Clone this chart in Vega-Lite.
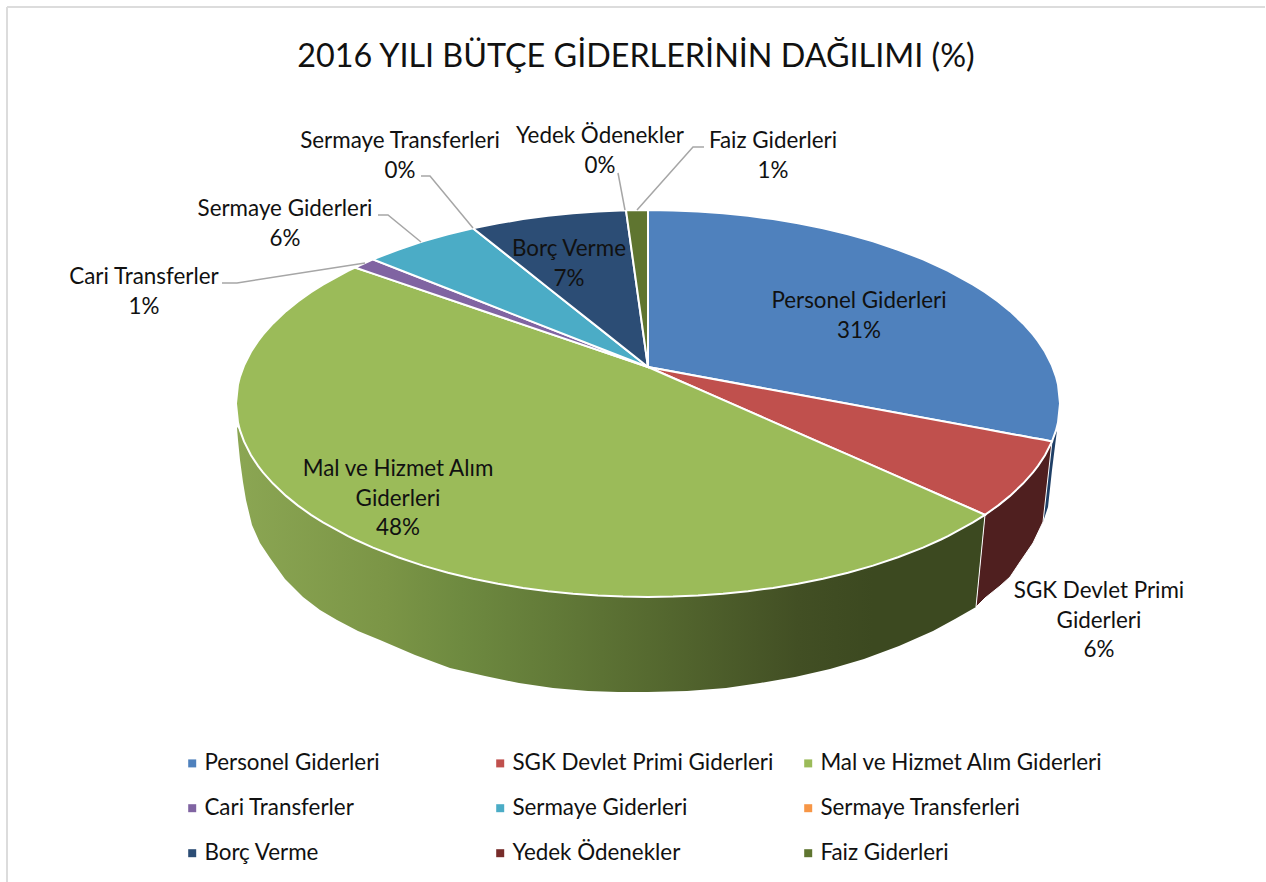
{
"$schema":"https://vega.github.io/schema/vega-lite/v6.json",
"width":1266,"height":882,"padding":0,"autosize":"none","background":"white",
"title":{"text":"2016 YILI BÜTÇE GİDERLERİNİN DAĞILIMI (%)","font":"Lato","fontSize":32.3,"fontWeight":"normal","color":"#111111","anchor":"middle","frame":"group","offset":-73,"dx":3},
"config":{"view":{"stroke":null}},
"datasets":{
"frame":[{"x":7,"y":7,"x2":7,"y2":882},{"x":7,"y":7,"x2":1265,"y2":7}],
"wallPersonel":[{"x":1043,"y":458,"y2":522},{"x":1048,"y":450,"y2":507},{"x":1052,"y":441,"y2":470},{"x":1057,"y":430,"y2":430}],
"wallMal":[{"x":237,"y":427,"y2":428},{"x":238,"y":428,"y2":440},{"x":240,"y":430,"y2":460},{"x":243,"y":436,"y2":482},{"x":246,"y":440,"y2":500},{"x":252,"y":450,"y2":525},{"x":260,"y":450,"y2":543},{"x":270,"y":450,"y2":558},{"x":285,"y":450,"y2":579},{"x":303,"y":450,"y2":597},{"x":320,"y":450,"y2":610},{"x":337,"y":450,"y2":620},{"x":358,"y":450,"y2":631},{"x":380,"y":450,"y2":640},{"x":415,"y":450,"y2":655},{"x":450,"y":450,"y2":668},{"x":485,"y":450,"y2":676},{"x":519,"y":450,"y2":683},{"x":553,"y":450,"y2":688},{"x":588,"y":450,"y2":691},{"x":618,"y":450,"y2":692},{"x":648,"y":450,"y2":692},{"x":687,"y":450,"y2":691},{"x":726,"y":450,"y2":688},{"x":760,"y":450,"y2":683},{"x":795,"y":450,"y2":677},{"x":830,"y":450,"y2":669},{"x":864,"y":450,"y2":659},{"x":899,"y":450,"y2":646},{"x":933,"y":450,"y2":631},{"x":955,"y":450,"y2":619},{"x":976,"y":450,"y2":607},{"x":985,"y":510,"y2":515}],
"wallSgk":[{"x":976,"y":607,"y2":607},{"x":985,"y":515,"y2":598},{"x":1000,"y":504.4,"y2":586},{"x":1010,"y":495.9,"y2":577},{"x":1020,"y":486.7,"y2":562},{"x":1033,"y":472.4,"y2":543},{"x":1043,"y":458.5,"y2":522},{"x":1052,"y":441.4,"y2":441.4}],
"top":[
{"slice":"Personel Giderleri","x":648,"y":210,"y2":367},{"slice":"Personel Giderleri","x":673,"y":210.4,"y2":371.6},{"slice":"Personel Giderleri","x":698,"y":211.4,"y2":376.2},{"slice":"Personel Giderleri","x":723,"y":213.2,"y2":380.8},{"slice":"Personel Giderleri","x":748,"y":215.8,"y2":385.4},{"slice":"Personel Giderleri","x":773,"y":219.1,"y2":390},{"slice":"Personel Giderleri","x":798,"y":223.3,"y2":394.6},{"slice":"Personel Giderleri","x":823,"y":228.3,"y2":399.2},{"slice":"Personel Giderleri","x":848,"y":234.3,"y2":403.8},{"slice":"Personel Giderleri","x":873,"y":241.4,"y2":408.4},{"slice":"Personel Giderleri","x":898,"y":249.7,"y2":413.1},{"slice":"Personel Giderleri","x":923,"y":259.4,"y2":417.7},{"slice":"Personel Giderleri","x":948,"y":270.9,"y2":422.3},{"slice":"Personel Giderleri","x":973,"y":284.6,"y2":426.9},{"slice":"Personel Giderleri","x":985,"y":292.2,"y2":429.1},{"slice":"Personel Giderleri","x":998,"y":301.4,"y2":431.5},{"slice":"Personel Giderleri","x":1010,"y":311.1,"y2":433.7},{"slice":"Personel Giderleri","x":1023,"y":323.4,"y2":436.1},{"slice":"Personel Giderleri","x":1033,"y":334.6,"y2":437.9},{"slice":"Personel Giderleri","x":1038,"y":341.1,"y2":438.8},{"slice":"Personel Giderleri","x":1045,"y":351.8,"y2":440.1},{"slice":"Personel Giderleri","x":1052,"y":365.6,"y2":441.4},{"slice":"Personel Giderleri","x":1056,"y":376.6,"y2":430.4},{"slice":"Personel Giderleri","x":1058,"y":384.4,"y2":422.6},{"slice":"Personel Giderleri","x":1060,"y":403.5,"y2":403.5},
{"slice":"SGK Devlet Primi Giderleri","x":648,"y":367,"y2":367},{"slice":"SGK Devlet Primi Giderleri","x":985,"y":429.1,"y2":514.8},{"slice":"SGK Devlet Primi Giderleri","x":998,"y":431.5,"y2":505.6},{"slice":"SGK Devlet Primi Giderleri","x":1010,"y":433.7,"y2":495.9},{"slice":"SGK Devlet Primi Giderleri","x":1023,"y":436.1,"y2":483.6},{"slice":"SGK Devlet Primi Giderleri","x":1033,"y":437.9,"y2":472.4},{"slice":"SGK Devlet Primi Giderleri","x":1038,"y":438.8,"y2":465.9},{"slice":"SGK Devlet Primi Giderleri","x":1045,"y":440.1,"y2":455.2},{"slice":"SGK Devlet Primi Giderleri","x":1052,"y":441.4,"y2":441.4},
{"slice":"Mal ve Hizmet Alım Giderleri","x":236,"y":403.5,"y2":403.5},{"slice":"Mal ve Hizmet Alım Giderleri","x":238,"y":384.4,"y2":422.6},{"slice":"Mal ve Hizmet Alım Giderleri","x":240,"y":376.6,"y2":430.4},{"slice":"Mal ve Hizmet Alım Giderleri","x":244,"y":365.6,"y2":441.4},{"slice":"Mal ve Hizmet Alım Giderleri","x":251,"y":351.8,"y2":455.2},{"slice":"Mal ve Hizmet Alım Giderleri","x":258,"y":341.1,"y2":465.9},{"slice":"Mal ve Hizmet Alım Giderleri","x":263,"y":334.6,"y2":472.4},{"slice":"Mal ve Hizmet Alım Giderleri","x":273,"y":323.4,"y2":483.6},{"slice":"Mal ve Hizmet Alım Giderleri","x":286,"y":311.1,"y2":495.9},{"slice":"Mal ve Hizmet Alım Giderleri","x":298,"y":301.4,"y2":505.6},{"slice":"Mal ve Hizmet Alım Giderleri","x":311,"y":292.2,"y2":514.8},{"slice":"Mal ve Hizmet Alım Giderleri","x":323,"y":284.6,"y2":522.4},{"slice":"Mal ve Hizmet Alım Giderleri","x":348,"y":270.9,"y2":536.1},{"slice":"Mal ve Hizmet Alım Giderleri","x":355,"y":267.5,"y2":539.5},{"slice":"Mal ve Hizmet Alım Giderleri","x":373,"y":273.6,"y2":547.6},{"slice":"Mal ve Hizmet Alım Giderleri","x":398,"y":282.1,"y2":557.3},{"slice":"Mal ve Hizmet Alım Giderleri","x":423,"y":290.6,"y2":565.6},{"slice":"Mal ve Hizmet Alım Giderleri","x":448,"y":299.1,"y2":572.7},{"slice":"Mal ve Hizmet Alım Giderleri","x":473,"y":307.6,"y2":578.7},{"slice":"Mal ve Hizmet Alım Giderleri","x":498,"y":316.1,"y2":583.7},{"slice":"Mal ve Hizmet Alım Giderleri","x":523,"y":324.6,"y2":587.9},{"slice":"Mal ve Hizmet Alım Giderleri","x":548,"y":333,"y2":591.2},{"slice":"Mal ve Hizmet Alım Giderleri","x":573,"y":341.5,"y2":593.8},{"slice":"Mal ve Hizmet Alım Giderleri","x":598,"y":350,"y2":595.6},{"slice":"Mal ve Hizmet Alım Giderleri","x":623,"y":358.5,"y2":596.6},{"slice":"Mal ve Hizmet Alım Giderleri","x":648,"y":367,"y2":597},{"slice":"Mal ve Hizmet Alım Giderleri","x":673,"y":378,"y2":596.6},{"slice":"Mal ve Hizmet Alım Giderleri","x":698,"y":388.9,"y2":595.6},{"slice":"Mal ve Hizmet Alım Giderleri","x":723,"y":399.9,"y2":593.8},{"slice":"Mal ve Hizmet Alım Giderleri","x":748,"y":410.9,"y2":591.2},{"slice":"Mal ve Hizmet Alım Giderleri","x":773,"y":421.8,"y2":587.9},{"slice":"Mal ve Hizmet Alım Giderleri","x":798,"y":432.8,"y2":583.7},{"slice":"Mal ve Hizmet Alım Giderleri","x":823,"y":443.8,"y2":578.7},{"slice":"Mal ve Hizmet Alım Giderleri","x":848,"y":454.7,"y2":572.7},{"slice":"Mal ve Hizmet Alım Giderleri","x":873,"y":465.7,"y2":565.6},{"slice":"Mal ve Hizmet Alım Giderleri","x":898,"y":476.7,"y2":557.3},{"slice":"Mal ve Hizmet Alım Giderleri","x":923,"y":487.6,"y2":547.6},{"slice":"Mal ve Hizmet Alım Giderleri","x":941,"y":495.5,"y2":539.5},{"slice":"Mal ve Hizmet Alım Giderleri","x":948,"y":498.6,"y2":536.1},{"slice":"Mal ve Hizmet Alım Giderleri","x":973,"y":509.5,"y2":522.4},{"slice":"Mal ve Hizmet Alım Giderleri","x":985,"y":514.8,"y2":514.8},
{"slice":"Cari Transferler","x":355,"y":267.5,"y2":267.5},{"slice":"Cari Transferler","x":373,"y":259.4,"y2":273.6},{"slice":"Cari Transferler","x":648,"y":367,"y2":367},
{"slice":"Sermaye Giderleri","x":373,"y":259.4,"y2":259.4},{"slice":"Sermaye Giderleri","x":398,"y":249.7,"y2":269.2},{"slice":"Sermaye Giderleri","x":423,"y":241.4,"y2":279},{"slice":"Sermaye Giderleri","x":448,"y":234.3,"y2":288.7},{"slice":"Sermaye Giderleri","x":473,"y":228.3,"y2":298.5},{"slice":"Sermaye Giderleri","x":648,"y":367,"y2":367},
{"slice":"Borç Verme","x":473,"y":228.3,"y2":228.3},{"slice":"Borç Verme","x":498,"y":223.3,"y2":248.1},{"slice":"Borç Verme","x":523,"y":219.1,"y2":267.9},{"slice":"Borç Verme","x":548,"y":215.8,"y2":287.7},{"slice":"Borç Verme","x":573,"y":213.2,"y2":307.6},{"slice":"Borç Verme","x":598,"y":211.4,"y2":327.4},{"slice":"Borç Verme","x":626,"y":210.3,"y2":349.6},{"slice":"Borç Verme","x":648,"y":367,"y2":367},
{"slice":"Faiz Giderleri","x":626,"y":210.3,"y2":210.3},{"slice":"Faiz Giderleri","x":648,"y":210,"y2":367}
],
"leaders":[
{"id":"cari","x":222,"y":283},{"id":"cari","x":237,"y":283},{"id":"cari","x":365,"y":263},
{"id":"serg","x":378,"y":215},{"id":"serg","x":388,"y":215},{"id":"serg","x":421,"y":242},
{"id":"sert","x":421,"y":176},{"id":"sert","x":430,"y":176},{"id":"sert","x":473,"y":228},
{"id":"yedek","x":618,"y":173},{"id":"yedek","x":625,"y":210},
{"id":"faiz","x":637,"y":210},{"id":"faiz","x":693,"y":147},{"id":"faiz","x":704,"y":147}
],
"labels":[
{"slice":"Personel Giderleri","pct":31,"label":"Personel Giderleri\n31%","x":859,"y":308},
{"slice":"SGK Devlet Primi Giderleri","pct":6,"label":"SGK Devlet Primi\nGiderleri\n6%","x":1099,"y":598},
{"slice":"Mal ve Hizmet Alım Giderleri","pct":48,"label":"Mal ve Hizmet Alım\nGiderleri\n48%","x":398,"y":476},
{"slice":"Cari Transferler","pct":1,"label":"Cari Transferler\n1%","x":144,"y":284},
{"slice":"Sermaye Giderleri","pct":6,"label":"Sermaye Giderleri\n6%","x":285,"y":216},
{"slice":"Sermaye Transferleri","pct":0,"label":"Sermaye Transferleri\n0%","x":400,"y":148},
{"slice":"Borç Verme","pct":7,"label":"Borç Verme\n7%","x":569,"y":256},
{"slice":"Yedek Ödenekler","pct":0,"label":"Yedek Ödenekler\n0%","x":600,"y":143},
{"slice":"Faiz Giderleri","pct":1,"label":"Faiz Giderleri\n1%","x":773,"y":148}
]
},
"layer":[
{"data":{"name":"frame"},"mark":{"type":"rule","stroke":"#dcdcdc","strokeWidth":2},
 "encoding":{"x":{"field":"x","type":"quantitative","scale":{"domain":[0,1266],"nice":false,"zero":false},"axis":null},"y":{"field":"y","type":"quantitative","scale":{"domain":[882,0],"nice":false,"zero":false},"axis":null},"x2":{"field":"x2"},"y2":{"field":"y2"}}},
{"data":{"name":"wallPersonel"},"mark":{"type":"area","orient":"vertical","fill":"#1f3f66"},
 "encoding":{"x":{"field":"x","type":"quantitative","axis":null},"y":{"field":"y","type":"quantitative","axis":null},"y2":{"field":"y2"}}},
{"data":{"name":"wallMal"},"mark":{"type":"area","orient":"vertical","fill":{"gradient":"linear","x1":0,"y1":0,"x2":1,"y2":0,"stops":[{"offset":0,"color":"#8ba653"},{"offset":0.2,"color":"#7b9546"},{"offset":0.3,"color":"#6e8a40"},{"offset":0.55,"color":"#566a30"},{"offset":0.75,"color":"#424f24"},{"offset":0.85,"color":"#3c4920"},{"offset":1,"color":"#3c4920"}]}},
 "encoding":{"x":{"field":"x","type":"quantitative","axis":null},"y":{"field":"y","type":"quantitative","axis":null},"y2":{"field":"y2"}}},
{"data":{"name":"wallSgk"},"mark":{"type":"area","orient":"vertical","fill":"#4f1f1f","stroke":"#ffffff","strokeWidth":1},
 "encoding":{"x":{"field":"x","type":"quantitative","axis":null},"y":{"field":"y","type":"quantitative","axis":null},"y2":{"field":"y2"}}},
{"data":{"name":"top"},"mark":{"type":"area","orient":"vertical","stroke":"#ffffff","strokeWidth":2},
 "encoding":{"x":{"field":"x","type":"quantitative","axis":null},"y":{"field":"y","type":"quantitative","axis":null},"y2":{"field":"y2"},
  "color":{"field":"slice","type":"nominal","scale":{"domain":["Personel Giderleri","SGK Devlet Primi Giderleri","Mal ve Hizmet Alım Giderleri","Cari Transferler","Sermaye Giderleri","Sermaye Transferleri","Borç Verme","Yedek Ödenekler","Faiz Giderleri"],"range":["#4f81bd","#c0504d","#9bbb59","#8064a2","#4bacc6","#f79646","#2c4d75","#772c2a","#5f7530"]},
   "legend":{"title":null,"orient":"none","direction":"horizontal","legendX":181,"legendY":752,"columns":3,"symbolType":"square","symbolSize":64,"symbolStrokeWidth":0,"labelFont":"Lato","labelFontSize":22.4,"labelColor":"#111111","labelLimit":400,"gridAlign":"all","columnPadding":2,"rowPadding":22,"symbolOffset":0,"labelOffset":1}}}},
{"data":{"name":"leaders"},"mark":{"type":"line","stroke":"#a6a6a6","strokeWidth":1.5},
 "encoding":{"x":{"field":"x","type":"quantitative","axis":null},"y":{"field":"y","type":"quantitative","axis":null},"detail":{"field":"id"}}},
{"data":{"name":"labels"},"mark":{"type":"text","font":"Lato","fontSize":22.4,"color":"#111111","align":"center","baseline":"alphabetic","lineBreak":"\n","lineHeight":29.5},
 "encoding":{"x":{"field":"x","type":"quantitative","axis":null},"y":{"field":"y","type":"quantitative","axis":null},"text":{"field":"label"}}}
]
}
